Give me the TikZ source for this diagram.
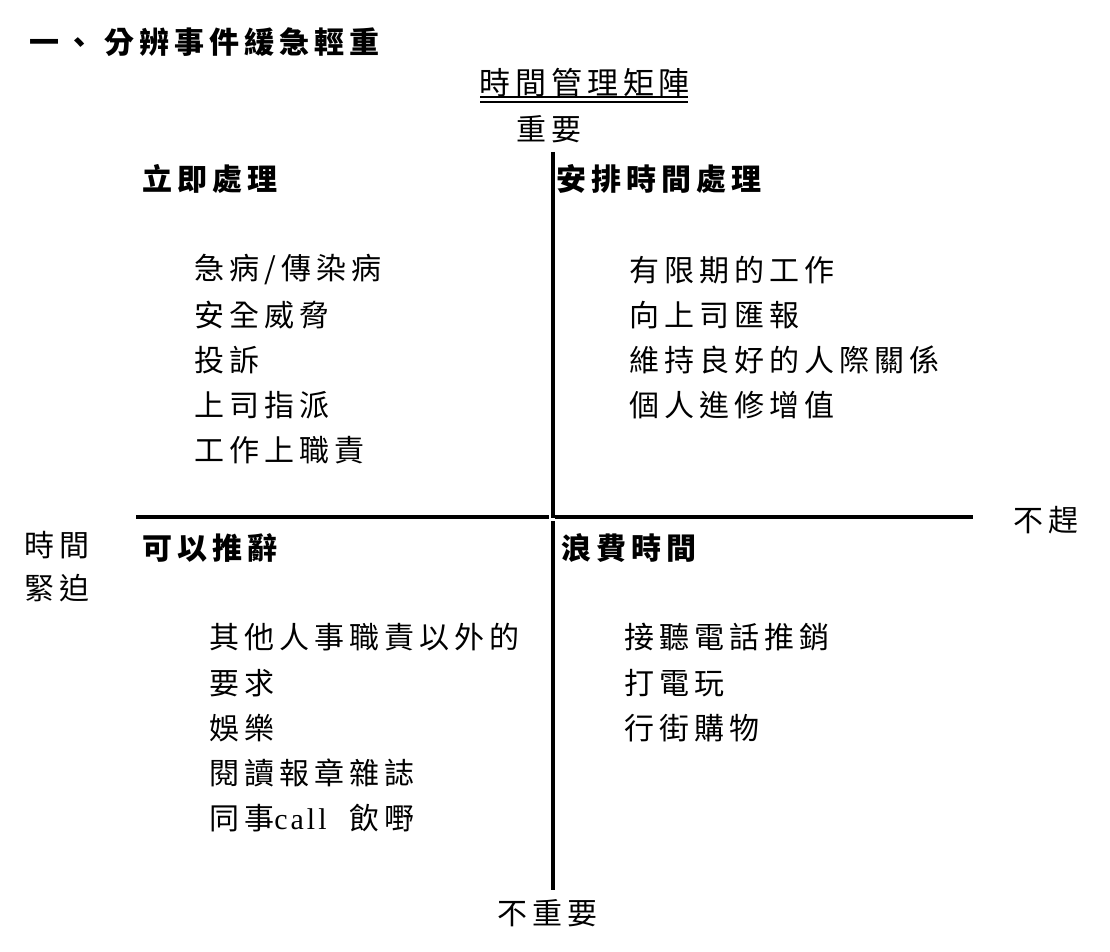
\documentclass[tikz,border=0pt]{standalone}
\usepackage{fontspec}
\setmainfont{Liberation Serif}
\newfontfamily\cjk[LetterSpace=17]{Noto Sans CJK TC}
\newfontfamily\cjkt[LetterSpace=16]{Noto Sans CJK TC}
\newfontfamily\lat[LetterSpace=10]{Liberation Serif}
\begin{document}
\begin{tikzpicture}[x=1pt,y=-1pt,
  item/.style={anchor=west, inner sep=0pt, font=\fontsize{30}{30}\selectfont\cjk},
  head/.style={anchor=west, inner sep=0pt, font=\fontsize{30}{30}\selectfont\cjk\bfseries},
  axis/.style={line width=4pt},
  uline/.style={line width=1.6pt}]
\useasboundingbox (0,0) rectangle (1110,952);
% title
\node[head] (title) at (29,42) {一、\hspace{10pt}分辨事件緩急輕重};
\node[anchor=west, inner sep=0pt, font=\fontsize{31}{31}\selectfont\cjkt] (matrix) at (479,83) {時間管理矩陣};
\coordinate (ul1a) at (480,97); \coordinate (ul1b) at (688,97);
\coordinate (ul2a) at (480,102); \coordinate (ul2b) at (688,102);
\draw[uline] (ul1a) -- (ul1b);
\draw[uline] (ul2a) -- (ul2b);
\node[item] (imp) at (516,129) {重要};
\node[item] (notimp) at (497,913) {不重要};
\node[item] (urg1) at (24,545) {時間};
\node[item] (urg2) at (24,588) {緊迫};
\node[item] (noturg) at (1013,520) {不趕};
% axes
\coordinate (vt1) at (553,152); \coordinate (vt2) at (553,518);
\coordinate (vb1) at (553,521); \coordinate (vb2) at (553,890);
\coordinate (hl1) at (136,517); \coordinate (hl2) at (549,517);
\coordinate (hr1) at (555,517); \coordinate (hr2) at (973,517);
\draw[axis] (vt1) -- (vt2);
\draw[axis] (vb1) -- (vb2);
\draw[axis] (hl1) -- (hl2);
\draw[axis] (hr1) -- (hr2);
% quadrant headers
\node[head] (q1) at (142,179) {立即處理};
\node[head] (q2) at (556,179) {安排時間處理};
\node[head] (q3) at (142,548) {可以推辭};
\node[head] (q4) at (561,548) {浪費時間};
% quadrant 1
\node[item] (a1) at (194,270) {急病/傳染病};
\node[item] (a2) at (194,315) {安全威脅};
\node[item] (a3) at (194,360) {投訴};
\node[item] (a4) at (194,405) {上司指派};
\node[item] (a5) at (194,450) {工作上職責};
% quadrant 2
\node[item] (b1) at (629,270) {有限期的工作};
\node[item] (b2) at (629,315) {向上司匯報};
\node[item] (b3) at (629,360) {維持良好的人際關係};
\node[item] (b4) at (629,405) {個人進修增值};
% quadrant 3
\node[item] (c1) at (209,637) {其他人事職責以外的};
\node[item] (c2) at (209,683) {要求};
\node[item] (c3) at (209,728) {娛樂};
\node[item] (c4) at (209,773) {閱讀報章雜誌};
\node[item] (c5) at (209,818) {同事{\lat call}\hspace{23pt}飲嘢};
% quadrant 4
\node[item] (d1) at (624,637) {接聽電話推銷};
\node[item] (d2) at (624,683) {打電玩};
\node[item] (d3) at (624,728) {行街購物};
\end{tikzpicture}
\end{document}
